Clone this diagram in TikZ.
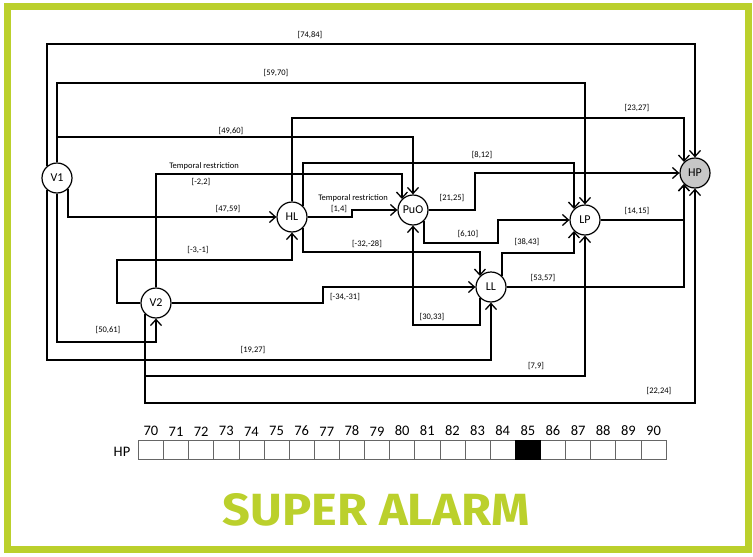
\documentclass[tikz,border=0pt]{standalone}
\usepackage{fontspec}
\setmainfont{Carlito}
\newfontfamily\alarmfont{Fira Sans}
\usetikzlibrary{arrows.meta}
\definecolor{alarmgreen}{RGB}{187,208,44}

\begin{document}
\begin{tikzpicture}[x=1pt, y=-1pt]
        \tikzstyle{state}=[circle, draw, line width=1.2pt, fill=white, inner sep=0pt, minimum size=30pt, font=\fontsize{12}{12}\selectfont]
        \tikzstyle{conn}=[line width=1.3pt, -{Straight Barb[length=6pt,width=11pt]}]
        \tikzstyle{lab}=[inner sep=0pt, font=\fontsize{8.5}{9}\selectfont]
        \tikzstyle{cell}=[draw=black!60, line width=0.7pt, minimum width=25.13pt, minimum height=19.3pt, inner sep=0pt]
        \useasboundingbox (0,0) rectangle (753,557);
        \draw[alarmgreen, line width=6.5pt] (7.5,6.3) rectangle (748.5,549.3);

        \node [state] (V1) at (57,178) {V1};
        \node [state] (V2) at (156,303) {V2};
        \node [state] (HL) at (292,217) {HL};
        \node [state] (PuO) at (413,210) {PuO};
        \node [state] (LL) at (491,287) {LL};
        \node [state] (LP) at (585,220) {LP};
        \node [state, fill=black!22] (HP) at (695,173) {HP};

        \draw [conn] (V1.130) -- (V1.130 |- 0,44) -| (HP.north);
        \draw [conn] (V1.north) -- (V1.north |- 0,83) -| (LP.north);
        \draw [conn] (V1.north) -- (V1.north |- 0,137) -| (PuO.north);
        \draw [conn] (V1.-45) |- (HL.west);
        \draw [conn] (V1.south) -- (V1.south |- 0,342) -| (V2.south);
        \draw [conn] (V1.230) -- (V1.230 |- 0,360) -| (LL.south);
        \draw [conn] (V2.north) -- (V2.north |- 0,174) -| (PuO.135);
        \draw [conn] (V2.west) -| (117,260) -| (HL.south);
        \draw [conn] (V2.east) -| (323,287) |- (LL.west);
        \draw [conn] (V2.-135) -- (V2.-135 |- 0,376) -| (LP.south);
        \draw [conn] (V2.-135) -- (V2.-135 |- 0,403) -| (HP.south);
        \draw [conn] (HL.north) -- (HL.north |- 0,118) -| (HP.135);
        \draw [conn] (HL.45) -- (HL.45 |- 0,163) -| (LP.135);
        \draw [conn] (HL.east) -| (352,0 |- PuO.west) -- (PuO.west);
        \draw [conn] (HL.-45) -- (HL.-45 |- 0,252) -| (LL.135);
        \draw [conn] (PuO.east) -| (475,0 |- HP.west) -- (HP.west);
        \draw [conn] (PuO.-45) |- (498,243) |- (LP.west);
        \draw [conn] (LL.-135) -- (LL.-135 |- 0,325) -| (PuO.south);
        \draw [conn] (LL.45) -- (LL.45 |- 0,253) -| (LP.-135);
        \draw [conn] (LL.east) -| (HP.-135);
        \draw [conn] (LP.east) -| (HP.-135);

        \node [lab] (l7484) at (310,35) {[74,84]};
        \node [lab] (l5970) at (276,73) {[59,70]};
        \node [lab] (l4960) at (231,131) {[49,60]};
        \node [lab] (l4759) at (228,209) {[47,59]};
        \node [lab] (l5061) at (108,330) {[50,61]};
        \node [lab] (l1927) at (253,350) {[19,27]};
        \node [lab] (tr1) at (204,166) {Temporal restriction};
        \node [lab] (l22) at (201,182) {[-2,2]};
        \node [lab] (l31) at (198,250) {[-3,-1]};
        \node [lab] (l3431) at (345,297) {[-34,-31]};
        \node [lab] (l79) at (536,366) {[7,9]};
        \node [lab] (l2224) at (659,391) {[22,24]};
        \node [lab] (l2327) at (637,108) {[23,27]};
        \node [lab] (l812) at (482,155) {[8,12]};
        \node [lab] (tr2) at (353,198) {Temporal restriction};
        \node [lab] (l14) at (339,209) {[1,4]};
        \node [lab] (l3228) at (367,244) {[-32,-28]};
        \node [lab] (l2125) at (452,198) {[21,25]};
        \node [lab] (l610) at (468,234) {[6,10]};
        \node [lab] (l3033) at (432,317) {[30,33]};
        \node [lab] (l3843) at (527,242) {[38,43]};
        \node [lab] (l5357) at (543,278) {[53,57]};
        \node [lab] (l1415) at (637,211) {[14,15]};

        \node [font=\fontsize{14.5}{15}\selectfont] (hprow) at (122,451.7) {HP};
        \foreach \v [count=\i from 0] in {70,...,90} {
            \node [cell] (c\v) at (150.9+25.13*\i,449.7) {};
            \node [anchor=south, inner sep=3.5pt, font=\fontsize{14.5}{15}\selectfont] (n\v) at (c\v.north) {\v};
        }
        \fill [black] (c85.south west) rectangle (c85.north east);

        \node [anchor=base, inner sep=0pt, text=alarmgreen] (title) at (376.5,525) {\resizebox{307pt}{32pt}{\alarmfont\bfseries SUPER ALARM}};
    \end{tikzpicture}
\end{document}
